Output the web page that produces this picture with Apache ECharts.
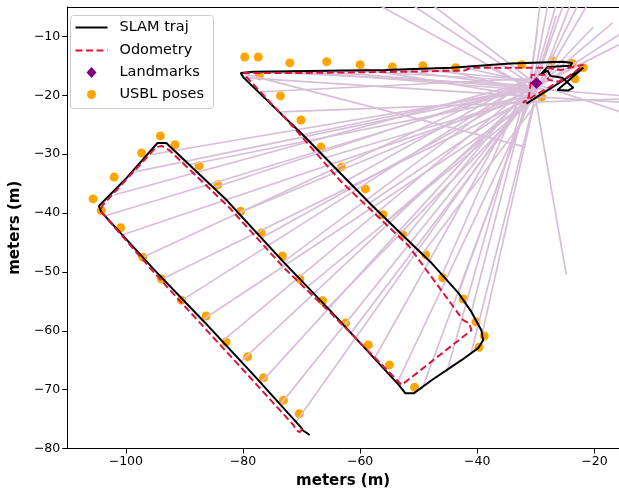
<!DOCTYPE html>
<html>
<head>
<meta charset="utf-8">
<script src="https://cdn.jsdelivr.net/npm/echarts@6/dist/echarts.min.js"></script>
<style>
  html, body { margin: 0; padding: 0; background: #fff; }
  #chart { width: 619px; height: 494px; }
</style>
</head>
<body>
<div id="chart"></div>
<script>
// tick labels
const xTicks = [-100, -80, -60, -40, -20]
const yTicks = [-80, -70, -60, -50, -40, -30, -20, -10]

// SLAM trajectory (x, y in meters)
const slamTraj = [
  [-68.6, -77.7], [-69.8, -76.9], [-70.1, -76.4], [-78.2, -67.5], [-86.6, -58.5],
  [-95.1, -49.7], [-104.2, -39.8], [-104.6, -38.8], [-100.2, -34.4], [-94.6, -28.1],
  [-93.1, -28.1], [-82.8, -37.8], [-73.1, -48.3], [-64.7, -57.0], [-53.4, -69.2],
  [-52.3, -70.6], [-50.8, -70.6], [-47.8, -68.4], [-42.7, -65.0], [-39.8, -62.9],
  [-39.0, -61.6], [-39.3, -59.9], [-41.0, -56.8], [-43.2, -53.6], [-47.8, -48.5],
  [-52.3, -44.2], [-58.4, -38.3], [-69.8, -26.7], [-79.9, -17.0], [-80.4, -16.2],
  [-78.2, -16.0], [-55.7, -15.7], [-44.4, -15.3], [-34.3, -14.6], [-25.3, -14.3],
  [-23.8, -14.5], [-24.1, -15.0], [-28.0, -15.2], [-29.2, -16.5], [-28.0, -15.8],
  [-27.5, -16.7], [-25.5, -17.0], [-23.6, -18.7], [-24.5, -19.2], [-26.3, -19.1],
  [-25.0, -18.0], [-21.9, -15.3], [-31.6, -21.4]
]

// dead-reckoning odometry
const odomTraj = [
  [-69.9, -76.7], [-70.3, -77.2], [-70.9, -76.9], [-71.4, -76.0], [-79.0, -67.7],
  [-87.5, -58.5], [-95.1, -50.2], [-104.4, -39.6], [-103.9, -38.6], [-94.8, -28.8],
  [-93.9, -28.6], [-92.6, -29.3], [-82.4, -39.0], [-73.1, -49.2], [-64.7, -57.3],
  [-52.9, -69.2], [-41.0, -59.9], [-41.4, -58.7], [-42.4, -58.2], [-51.7, -45.6],
  [-63.5, -34.4], [-71.4, -25.4], [-79.4, -16.9], [-79.9, -16.2], [-69.8, -16.2],
  [-52.9, -16.0], [-42.2, -15.8], [-41.0, -15.3], [-32.6, -15.3], [-28.3, -15.3],
  [-25.8, -15.7], [-21.9, -14.8], [-23.3, -16.0], [-25.8, -17.7], [-27.8, -17.4],
  [-28.3, -16.5], [-30.7, -16.5], [-30.9, -18.2], [-31.2, -20.3], [-32.2, -21.3],
  [-30.0, -19.9], [-27.8, -18.7], [-25.0, -17.0]
]

const landmarks = [[-29.9, -17.9]]

const usblPoses = [
  [-79.7, -13.5], [-77.4, -13.5], [-72.0, -14.5], [-65.7, -14.3], [-60.0, -14.8],
  [-54.5, -15.2], [-49.3, -15.0], [-43.7, -15.3], [-32.4, -14.8], [-27.2, -14.1],
  [-23.8, -14.6], [-21.9, -15.3], [-23.3, -17.2], [-29.0, -20.3],
  [-77.2, -16.7], [-73.6, -20.1], [-70.1, -24.2], [-66.7, -28.8], [-63.2, -32.2],
  [-59.1, -35.9], [-56.1, -40.3], [-52.7, -43.7], [-48.8, -47.1], [-45.9, -51.0],
  [-42.4, -54.6], [-40.2, -58.5], [-38.8, -60.9], [-39.7, -62.8],
  [-50.7, -69.6], [-55.0, -65.8], [-58.6, -62.4], [-62.5, -58.7], [-66.4, -54.9],
  [-70.3, -51.2], [-73.3, -47.3], [-76.9, -43.4], [-80.4, -39.7], [-84.3, -35.2],
  [-87.5, -32.0], [-91.6, -28.4], [-94.1, -26.9], [-97.3, -29.8], [-102.0, -33.9],
  [-105.6, -37.6], [-104.2, -39.6],
  [-100.9, -42.5], [-97.1, -47.5], [-93.9, -51.2], [-90.5, -54.8], [-86.3, -57.5],
  [-82.9, -61.9], [-79.2, -64.4], [-76.5, -68.0], [-73.1, -71.8], [-70.4, -74.1]
]

// landmark observations: from pose to observed point
const rayFrom = [
  [-70.9, -75.4], [-73.6, -72.5], [-77.0, -68.9], [-80.4, -65.3], [-83.6, -61.8],
  [-87.0, -58.2], [-90.4, -54.8], [-93.8, -51.2], [-97.1, -47.5], [-100.5, -43.7],
  [-103.6, -40.5], [-101.9, -36.9], [-98.5, -33.0], [-95.9, -30.1],
  [-89.2, -31.8], [-85.0, -35.7], [-80.7, -40.0], [-76.8, -44.2], [-73.1, -48.3],
  [-69.2, -52.7], [-65.5, -56.1], [-61.6, -60.4], [-57.6, -64.8], [-53.7, -68.9],
  [-49.5, -70.1], [-45.2, -67.0], [-41.0, -63.6], [-39.2, -60.7],
  [-41.0, -56.8], [-43.2, -53.6], [-46.1, -50.7], [-49.5, -47.1], [-52.3, -44.2],
  [-55.4, -41.3], [-58.4, -38.3], [-62.1, -34.4], [-66.0, -30.6], [-69.8, -26.7],
  [-73.5, -22.8], [-76.9, -19.4], [-79.9, -17.0],
  [-76.5, -16.0], [-72.3, -15.8], [-68.1, -15.8], [-63.8, -15.7], [-59.6, -15.5],
  [-55.4, -15.5], [-51.2, -15.5], [-46.9, -15.3], [-42.7, -15.2], [-38.5, -15.0],
  [-80.4, -16.2],
  [-30.5, -19.0], [-30.2, -18.5], [-29.8, -18.2], [-31.0, -20.0], [-30.6, -19.5],
  [-29.6, -18.8], [-30.0, -19.2], [-31.2, -20.5], [-30.8, -19.8], [-29.4, -18.5],
  [-30.4, -19.1], [-29.9, -18.6], [-30.1, -18.9], [-29.7, -18.4], [-30.3, -18.0],
  [-30.0, -20.8], [-31.5, -20.5], [-30.8, -20.2]
]
const rayTo = [
  [-31.0, -19.5], [-30.2, -18.8], [-32.5, -20.3], [-29.0, -17.5], [-31.8, -19.0],
  [-30.5, -21.0], [-33.0, -18.6], [-29.5, -19.8], [-31.2, -17.2], [-32.0, -20.6],
  [-30.0, -18.3], [-30.8, -17.6], [-31.5, -19.2], [-29.7, -18.9],
  [-30.4, -20.0], [-31.6, -18.2], [-29.2, -18.5], [-32.3, -19.6], [-30.9, -17.0],
  [-29.8, -20.4], [-31.3, -21.2], [-30.1, -19.1], [-32.8, -20.9], [-29.4, -17.8],
  [-30.6, -19.4], [-31.9, -20.1], [-29.6, -18.2], [-30.3, -21.5],
  [-31.4, -19.8], [-30.0, -17.3], [-32.1, -18.9], [-29.3, -20.6], [-30.7, -18.0],
  [-31.7, -21.0], [-29.9, -19.3], [-32.6, -17.9], [-30.4, -20.2], [-31.1, -18.6],
  [-15.0, -20.6], [-29.5, -17.1], [-15.0, -21.2],
  [-30.2, -18.4], [-31.8, -19.1], [-15.0, -20.1], [-29.1, -17.7], [-30.9, -20.3],
  [-28.8, -18.9], [-31.3, -17.4], [-30.0, -19.7], [-29.6, -18.1], [-31.0, -18.8],
  [-31.7, -28.8],
  [-58.4, -3.8], [-52.4, -3.8], [-48.8, -3.8], [-26.3, -3.8], [-25.0, -3.8],
  [-23.8, -3.8], [-22.4, -3.8], [-29.2, -3.8], [-27.8, -3.8], [-20.7, -3.8],
  [-20.2, -8.4], [-16.9, -7.7], [-15.0, -9.2], [-15.0, -11.0], [-15.0, -23.0],
  [-24.8, -50.5], [-29.7, -8.9], [-26.5, -6.5]
]

const FONT = 'DejaVu Sans'
const fmt = v => (v < 0 ? '\u2212' : '') + Math.abs(v)

const chart = echarts.init(document.getElementById('chart'), null, { renderer: 'canvas' })

const axisCommon = {
  type: 'value',
  splitLine: { show: false },
  axisLine: { show: true, onZero: false, lineStyle: { color: '#000', width: 1 } },
}

chart.setOption({
  animation: false,
  backgroundColor: '#fff',
  grid: { left: 62.5, right: 0, top: 7, bottom: 45.5 },
  xAxis: [
    {
      ...axisCommon,
      min: -110,
      max: -15.8,
      position: 'bottom',
      axisTick: { customValues: xTicks, length: 5, lineStyle: { color: '#000' } },
      axisLabel: { customValues: xTicks, formatter: fmt, color: '#000', fontSize: 12.5, fontFamily: FONT, margin: 7 },
      name: 'meters (m)',
      nameLocation: 'middle',
      nameGap: 25,
      nameTextStyle: { color: '#000', fontSize: 15, fontWeight: 'bold', fontFamily: FONT },
    },
    {
      ...axisCommon,
      min: -110,
      max: -15.8,
      position: 'top',
      axisTick: { show: false },
      axisLabel: { show: false },
    },
  ],
  yAxis: {
    ...axisCommon,
    min: -80,
    max: -5,
    axisTick: { customValues: yTicks, length: 5, lineStyle: { color: '#000' } },
    axisLabel: { customValues: yTicks, formatter: fmt, color: '#000', fontSize: 12.5, fontFamily: FONT, margin: 7 },
    name: 'meters (m)',
    nameLocation: 'middle',
    nameGap: 40,
    nameTextStyle: { color: '#000', fontSize: 15, fontWeight: 'bold', fontFamily: FONT },
  },
  series: [
    {
      name: 'USBL poses',
      type: 'scatter',
      z: 1,
      data: usblPoses,
      symbol: 'circle',
      symbolSize: 9,
      itemStyle: { color: '#ffa500', opacity: 1 },
      silent: true,
    },
    {
      type: 'lines',
      coordinateSystem: 'cartesian2d',
      z: 2,
      clip: true,
      silent: true,
      lineStyle: { color: '#d8bfd8', width: 1.7, opacity: 1, curveness: 0 },
      data: rayFrom.map((p, i) => ({ coords: [p, rayTo[i]] })),
    },
    {
      name: 'SLAM traj',
      type: 'line',
      z: 3,
      data: slamTraj,
      symbol: 'none',
      lineStyle: { color: '#000', width: 2 },
      silent: true,
    },
    {
      name: 'Odometry',
      type: 'line',
      z: 4,
      data: odomTraj,
      symbol: 'none',
      lineStyle: { color: '#dc143c', width: 2, type: [7, 3.5] },
      silent: true,
    },
    {
      name: 'Landmarks',
      type: 'scatter',
      z: 10,
      zlevel: 0,
      data: landmarks,
      symbol: 'diamond',
      symbolSize: 12,
      itemStyle: { color: '#800080', opacity: 1 },
      silent: true,
    },
  ],
  graphic: [
    {
      type: 'group',
      left: 70,
      top: 15,
      z: 100,
      children: [
        { type: 'rect', shape: { x: 0, y: 0, width: 143, height: 93, r: 3 },
          style: { fill: 'rgba(255,255,255,0.8)', stroke: '#cccccc', lineWidth: 1 } },
        { type: 'line', shape: { x1: 5, y1: 12, x2: 37, y2: 12 }, style: { stroke: '#000', lineWidth: 2 } },
        { type: 'line', shape: { x1: 5, y1: 35, x2: 37, y2: 35 }, style: { stroke: '#dc143c', lineWidth: 2, lineDash: [7, 3.5] } },
        { type: 'polygon', shape: { points: [[21, 51.5], [26, 57], [21, 62.5], [16, 57]] }, style: { fill: '#800080' } },
        { type: 'circle', shape: { cx: 21, cy: 79, r: 4.5 }, style: { fill: '#ffa500' } },
        { type: 'text', x: 49, y: 12, style: { text: 'SLAM traj', fontSize: 14.5, fontFamily: FONT, fill: '#000', verticalAlign: 'middle' } },
        { type: 'text', x: 49, y: 35, style: { text: 'Odometry', fontSize: 14.5, fontFamily: FONT, fill: '#000', verticalAlign: 'middle' } },
        { type: 'text', x: 49, y: 57, style: { text: 'Landmarks', fontSize: 14.5, fontFamily: FONT, fill: '#000', verticalAlign: 'middle' } },
        { type: 'text', x: 49, y: 79, style: { text: 'USBL poses', fontSize: 14.5, fontFamily: FONT, fill: '#000', verticalAlign: 'middle' } },
      ],
    },
  ],
})
</script>
</body>
</html>
